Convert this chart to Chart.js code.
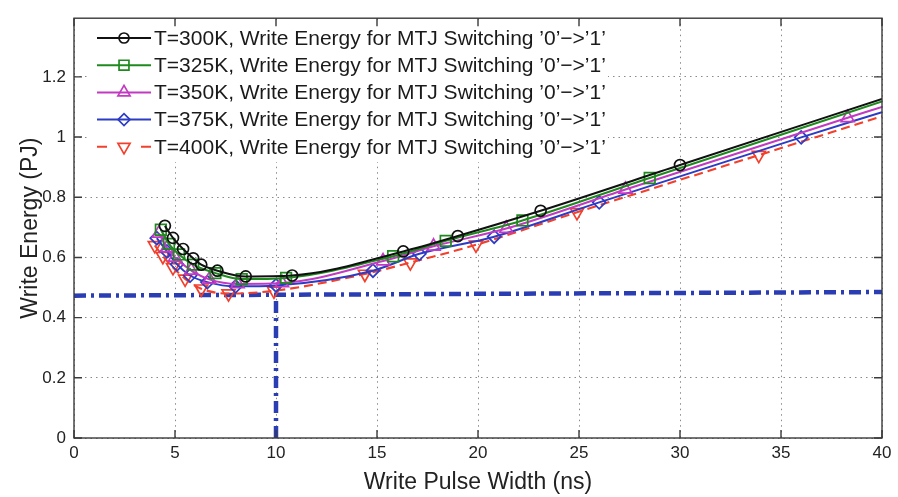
<!DOCTYPE html>
<html lang="en">
<head>
    <meta charset="UTF-8">
    <title>Write Energy vs Write Pulse Width</title>
    <script src="https://cdn.jsdelivr.net/npm/chart.js"></script>
    <style>
        html, body { margin: 0; padding: 0; background: #fff; }
        canvas { display: block; }
    </style>
</head>
<body>
    <canvas id="energyChart" width="898" height="497"></canvas>

    <script>
        // axis ticks
        const xTicks = [0, 5, 10, 15, 20, 25, 30, 35, 40];
        const yTicks = [0, 0.2, 0.4, 0.6, 0.8, 1, 1.2];

        const seriesLabels = [
            'T=300K, Write Energy for MTJ Switching \u20190\u2019\u2212>\u20191\u2019',
            'T=325K, Write Energy for MTJ Switching \u20190\u2019\u2212>\u20191\u2019',
            'T=350K, Write Energy for MTJ Switching \u20190\u2019\u2212>\u20191\u2019',
            'T=375K, Write Energy for MTJ Switching \u20190\u2019\u2212>\u20191\u2019',
            'T=400K, Write Energy for MTJ Switching \u20190\u2019\u2212>\u20191\u2019'
        ];

        // write pulse width (ns) and write energy (pJ)
        const width300  = [4.5, 4.9, 5.4, 5.9, 6.3, 7.1, 8.5, 10.8, 16.3, 19.0, 23.1, 30.0, 40];
        const energy300 = [0.705, 0.665, 0.628, 0.597, 0.576, 0.556, 0.537, 0.540, 0.620, 0.671, 0.755, 0.907, 1.127];

        const width325  = [4.3, 4.7, 5.2, 5.9, 7.0, 8.3, 10.5, 15.8, 18.4, 22.2, 28.5, 40];
        const energy325 = [0.692, 0.645, 0.610, 0.576, 0.548, 0.528, 0.532, 0.604, 0.655, 0.723, 0.864, 1.118];

        const width350  = [4.2, 4.6, 5.0, 5.8, 6.7, 8.1, 10.3, 15.3, 17.8, 21.4, 27.3, 38.3, 40];
        const energy350 = [0.680, 0.632, 0.600, 0.557, 0.527, 0.512, 0.515, 0.588, 0.637, 0.696, 0.826, 1.064, 1.100];

        const width375  = [4.1, 4.6, 5.1, 5.75, 6.6, 8.0, 10.0, 14.8, 17.1, 20.8, 26.0, 36.0, 40];
        const energy375 = [0.664, 0.620, 0.577, 0.540, 0.518, 0.504, 0.507, 0.556, 0.612, 0.669, 0.783, 0.999, 1.083];

        const width400  = [4.0, 4.4, 4.9, 5.5, 6.3, 7.65, 9.9, 14.4, 16.65, 19.9, 24.9, 33.9, 40];
        const energy400 = [0.640, 0.604, 0.567, 0.529, 0.496, 0.480, 0.489, 0.545, 0.583, 0.642, 0.750, 0.940, 1.069];

        // dash-dot guide lines (minimum energy level and 10 ns pulse)
        const levelX = [0, 40];
        const levelY = [0.473, 0.485];
        const pulseX = [10, 10];
        const pulseY = [0, 0.473];

        Chart.defaults.font.family = '"Liberation Sans", Arial, sans-serif';
        Chart.defaults.color = '#222';

        function toPoints(xs, ys) {
            return xs.map((x, i) => ({ x: x, y: ys[i] }));
        }

        function curve(label, xs, ys, color, style, radius, extra) {
            const last = xs.length - 1;
            return Object.assign({
                label: label,
                data: toPoints(xs, ys),
                borderColor: color,
                borderWidth: 2,
                backgroundColor: 'rgba(0,0,0,0)',
                pointStyle: style,
                pointRadius: ctx => ctx.dataIndex === last ? 0 : radius,
                pointBorderWidth: 1.7,
                pointBorderColor: color,
                pointBackgroundColor: 'rgba(0,0,0,0)',
                cubicInterpolationMode: 'monotone',
                fill: false,
                order: 1
            }, extra || {});
        }

        function guide(xs, ys) {
            return {
                label: 'guide',
                data: toPoints(xs, ys),
                borderColor: '#2b3db3',
                borderWidth: 4.5,
                borderDash: [12, 5, 3, 5],
                pointRadius: 0,
                fill: false,
                order: 5
            };
        }

        const datasets = [
            curve(seriesLabels[0], width300, energy300, '#111111', 'circle', 5.5),
            curve(seriesLabels[1], width325, energy325, '#1e8a1e', 'rect', 7.5),
            curve(seriesLabels[2], width350, energy350, '#c23ac2', 'triangle', 7.5),
            curve(seriesLabels[3], width375, energy375, '#2c3cc4', 'rectRot', 6.5),
            curve(seriesLabels[4], width400, energy400, '#f2402c', 'triangle', 7.5,
                { borderDash: [9, 5], pointRotation: 180, borderWidth: 2.1 }),
            guide(levelX, levelY),
            guide(pulseX, pulseY)
        ];

        function drawMarker(ctx, style, rot, r, x, y) {
            if (Chart.helpers && Chart.helpers.drawPoint) {
                Chart.helpers.drawPoint(ctx, { pointStyle: style, rotation: rot || 0, radius: r, borderWidth: 1.7 }, x, y);
                return;
            }
            ctx.beginPath();
            ctx.arc(x, y, r, 0, Math.PI * 2);
            ctx.stroke();
        }

        // white legend box with line + marker samples, drawn inside the axes
        const boxLegend = {
            id: 'boxLegend',
            afterDraw(chart) {
                const ctx = chart.ctx;
                ctx.save();
                ctx.fillStyle = '#ffffff';
                ctx.fillRect(90, 22, 518, 140);
                ctx.font = '21px "Liberation Sans", Arial, sans-serif';
                ctx.textBaseline = 'middle';
                for (let i = 0; i < seriesLabels.length; i++) {
                    const ds = chart.data.datasets[i];
                    const y = 38 + i * 27.2;
                    ctx.strokeStyle = ds.borderColor;
                    ctx.lineWidth = ds.borderWidth;
                    ctx.setLineDash([]);
                    ctx.beginPath();
                    if (ds.borderDash) {
                        ctx.moveTo(97, y); ctx.lineTo(107, y);
                        ctx.moveTo(141, y); ctx.lineTo(151, y);
                    } else {
                        ctx.moveTo(97, y); ctx.lineTo(151, y);
                    }
                    ctx.stroke();
                    ctx.lineWidth = 1.7;
                    ctx.fillStyle = 'rgba(0,0,0,0)';
                    const r = ds.pointStyle === 'circle' ? 5 : (ds.pointStyle === 'rectRot' ? 6 : 7);
                    drawMarker(ctx, ds.pointStyle, ds.pointRotation, r, 124, y);
                    ctx.fillStyle = '#1a1a1a';
                    ctx.fillText(ds.label, 154, y + 1);
                }
                ctx.restore();

                // axes box and inward ticks
                const a = chart.chartArea;
                const xs = chart.scales.x, ys = chart.scales.y;
                ctx.save();
                ctx.strokeStyle = '#3a3a3a';
                ctx.lineWidth = 1.4;
                ctx.strokeRect(a.left, a.top, a.right - a.left, a.bottom - a.top);
                ctx.beginPath();
                xTicks.forEach(v => {
                    const px = xs.getPixelForValue(v);
                    ctx.moveTo(px, a.bottom); ctx.lineTo(px, a.bottom - 8);
                    ctx.moveTo(px, a.top); ctx.lineTo(px, a.top + 8);
                });
                yTicks.forEach(v => {
                    const py = ys.getPixelForValue(v);
                    ctx.moveTo(a.left, py); ctx.lineTo(a.left + 8, py);
                    ctx.moveTo(a.right, py); ctx.lineTo(a.right - 8, py);
                });
                ctx.stroke();
                ctx.restore();
            }
        };

        new Chart(document.getElementById('energyChart').getContext('2d'), {
            type: 'line',
            data: { datasets: datasets },
            options: {
                responsive: false,
                animation: false,
                layout: { padding: { top: 8, right: 16, left: 0, bottom: 0 } },
                plugins: {
                    legend: { display: false },
                    tooltip: { enabled: false }
                },
                scales: {
                    x: {
                        type: 'linear',
                        min: 0,
                        max: 40,
                        afterBuildTicks: s => { s.ticks = xTicks.map(v => ({ value: v })); },
                        afterFit: s => { s.height = 59; },
                        grid: { color: '#8a8a8a', lineWidth: 1, drawTicks: false },
                        border: { display: false, dash: [1.5, 4] },
                        ticks: { padding: 5, font: { size: 17 }, color: '#222', callback: v => String(v) },
                        title: {
                            display: true,
                            text: 'Write Pulse Width (ns)',
                            font: { size: 23 },
                            color: '#222',
                            padding: { top: 0, bottom: 1 }
                        }
                    },
                    y: {
                        type: 'linear',
                        min: 0,
                        max: 1.395,
                        afterBuildTicks: s => { s.ticks = yTicks.map(v => ({ value: v })); },
                        afterFit: s => { s.width = 74; },
                        grid: { color: '#8a8a8a', lineWidth: 1, drawTicks: false },
                        border: { display: false, dash: [1.5, 4] },
                        ticks: { padding: 8, font: { size: 17 }, color: '#222', callback: v => String(Math.round(v * 10) / 10) },
                        title: {
                            display: true,
                            text: 'Write Energy (PJ)',
                            font: { size: 23 },
                            color: '#222',
                            padding: { top: 17, bottom: 0 }
                        }
                    }
                }
            },
            plugins: [boxLegend]
        });
    </script>
</body>
</html>
